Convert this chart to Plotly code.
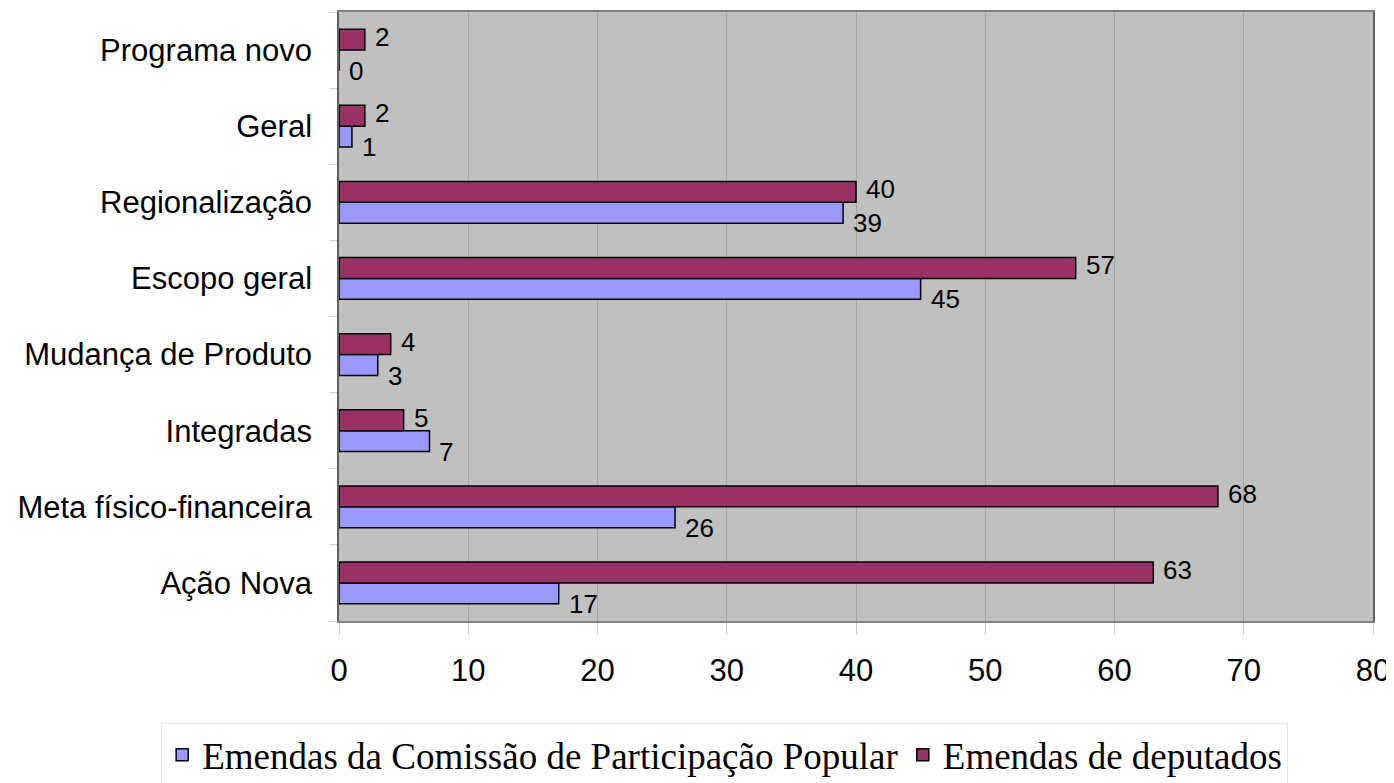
import plotly.graph_objects as go

categories = ["Ação Nova", "Meta físico-financeira", "Integradas", "Mudança de Produto",
              "Escopo geral", "Regionalização", "Geral", "Programa novo"]
comissao = [17, 26, 7, 3, 45, 39, 1, 0]
deputados = [63, 68, 5, 4, 57, 40, 2, 2]
x_ticks = [0, 10, 20, 30, 40, 50, 60, 70, 80]

name_com = "Emendas da Comissão de Participação Popular"
name_dep = "Emendas de deputados"

fig = go.Figure()
fig.add_trace(go.Bar(y=categories, x=comissao, orientation="h", name=name_com,
                     marker=dict(color="#9999FF", line=dict(color="#000000", width=1.5))))
fig.add_trace(go.Bar(y=categories, x=deputados, orientation="h", name=name_dep,
                     marker=dict(color="#993366", line=dict(color="#000000", width=1.5))))

ann = []
lab_font = dict(family="Liberation Sans, Arial", size=26, color="#000000")
for c, v in zip(categories, deputados):
    ann.append(dict(x=v, y=c, xref="x", yref="y", text=str(v), showarrow=False,
                    xanchor="left", yanchor="middle", xshift=8, yshift=13, font=lab_font))
for c, v in zip(categories, comissao):
    ann.append(dict(x=v, y=c, xref="x", yref="y", text=str(v), showarrow=False,
                    xanchor="left", yanchor="middle", xshift=8, yshift=-21, font=lab_font))

fig.update_layout(
    width=1386, height=775,
    margin=dict(l=331, r=21, t=4, b=162, autoexpand=False),
    paper_bgcolor="#FFFFFF", plot_bgcolor="#C0C0C0",
    barmode="group", bargap=0.45, bargroupgap=0,
    annotations=ann,
    showlegend=True,
    legend=dict(orientation="h", xref="paper", yref="paper",
                x=-0.172, xanchor="left", y=-0.168, yanchor="top",
                font=dict(family="Liberation Serif, Times New Roman", size=37, color="#000000"),
                bgcolor="#FFFFFF", bordercolor="#E6E6E6", borderwidth=1,
                traceorder="normal", itemwidth=30),
    xaxis=dict(range=[0, 80], tickvals=x_ticks, ticktext=[str(t) for t in x_ticks],
               showgrid=True, gridcolor="#A6A6A6", gridwidth=1,
               showline=True, linecolor="#808080", linewidth=1.5, mirror=True,
               ticks="outside", ticklen=12, tickcolor="#D0D0D0",
               ticklabelstandoff=9, automargin=False,
               tickfont=dict(family="Liberation Sans, Arial", size=31, color="#000000"),
               zeroline=False, fixedrange=True),
    yaxis=dict(type="category", categoryorder="array", categoryarray=categories,
               showline=True, linecolor="#606060", linewidth=1.5, mirror=True,
               ticks="outside", ticklen=8, tickcolor="#D0D0D0", tickson="boundaries",
               ticklabelstandoff=19, showgrid=False, automargin=False,
               tickfont=dict(family="Liberation Sans, Arial", size=31, color="#000000"),
               fixedrange=True),
)

fig.write_html("out.html")
